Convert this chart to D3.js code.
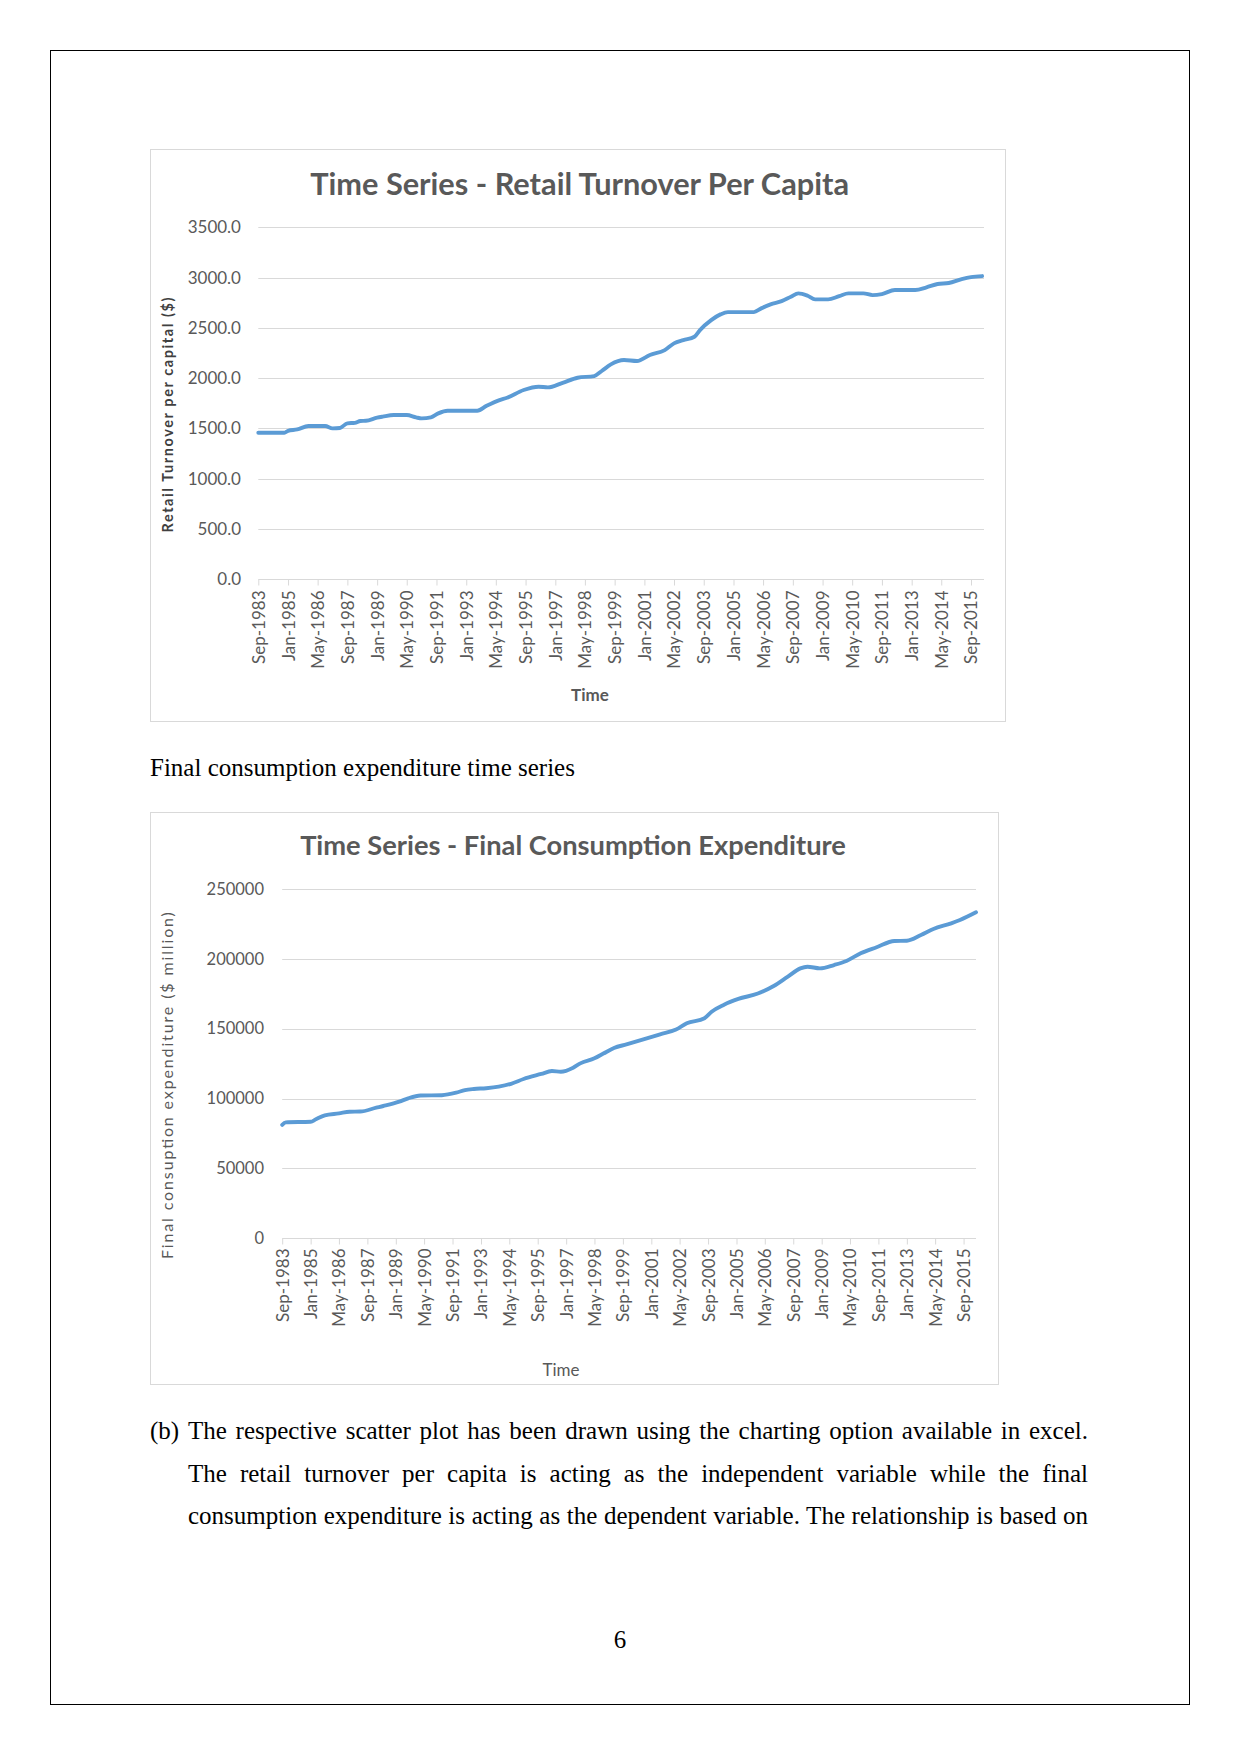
<!DOCTYPE html>
<html><head><meta charset="utf-8">
<script src="https://cdn.jsdelivr.net/npm/d3@7"></script>
<style>body{margin:0;background:#fff} svg{display:block}</style>
</head><body>
<svg id="page" width="1241" height="1754"></svg>
<script>
// ---------- data ----------
const tickLabels = ["Sep-1983","Jan-1985","May-1986","Sep-1987","Jan-1989","May-1990","Sep-1991","Jan-1993","May-1994","Sep-1995","Jan-1997","May-1998","Sep-1999","Jan-2001","May-2002","Sep-2003","Jan-2005","May-2006","Sep-2007","Jan-2009","May-2010","Sep-2011","Jan-2013","May-2014","Sep-2015"];

const retailDates = ["1983-09","1984-11","1985-01","1985-06","1985-12","1986-09","1987-01","1987-05","1987-09","1988-01","1988-04","1988-07","1989-01","1989-04","1989-10","1990-05","1990-10","1991-01","1991-06","1991-10","1992-03","1993-07","1993-12","1994-07","1994-11","1995-08","1996-04","1996-09","1997-05","1998-01","1998-10","1999-02","1999-07","2000-02","2000-09","2001-04","2001-12","2002-05","2002-10","2003-04","2003-07","2004-01","2004-06","2004-10","2005-12","2006-04","2006-09","2007-03","2007-08","2007-12","2008-05","2008-09","2009-04","2009-10","2010-03","2010-11","2011-04","2011-09","2012-04","2013-03","2013-09","2014-03","2014-09","2015-04","2015-09","2016-03"];
const retailValues = [1457,1457,1477,1490,1524,1524,1501,1505,1551,1556,1574,1576,1607,1617,1633,1633,1610,1600,1610,1650,1676,1676,1725,1782,1805,1882,1915,1908,1954,2004,2021,2071,2137,2180,2170,2230,2279,2346,2379,2412,2478,2577,2634,2657,2657,2694,2733,2766,2809,2843,2819,2783,2783,2816,2843,2843,2826,2836,2876,2876,2903,2936,2946,2985,3005,3015];

const fceDates = ["1983-09","1983-11","1985-01","1985-04","1985-09","1986-05","1986-11","1987-05","1988-02","1988-06","1989-03","1989-08","1990-03","1991-03","1991-11","1992-04","1992-09","1993-04","1993-11","1994-06","1995-01","1995-11","1996-05","1996-10","1997-05","1997-09","1998-05","1998-10","1999-04","1999-11","2000-09","2001-06","2002-03","2002-09","2003-07","2003-11","2004-06","2005-02","2006-01","2006-10","2007-06","2008-01","2008-05","2008-12","2009-08","2010-03","2010-11","2011-08","2012-06","2013-01","2013-09","2014-04","2015-02","2015-07","2016-04"];
const fceValues = [81200,83000,83400,85200,88000,89400,90600,90700,93500,94700,97800,100200,102200,102400,104200,106100,106900,107400,108500,110600,114000,117600,119700,119200,122100,125200,128800,132200,136200,138800,142600,146000,149400,153900,157500,162200,167200,171300,175200,180600,187300,193200,194400,193200,195600,198500,204000,208300,212800,213000,217100,221400,225400,227800,233300];

const retailYTicks = [0,500,1000,1500,2000,2500,3000,3500];
const fceYTicks = [0,50000,100000,150000,200000,250000];

const retailTitle = "Time Series - Retail Turnover Per Capita";
const retailYTitle = "Retail Turnover  per capital ($)";
const fceTitle = "Time Series - Final Consumption Expenditure";
const fceYTitle = "Final consuption expenditure ($  million)";
const xTitle = "Time";

const caption = "Final consumption expenditure time series";
const paraLabel = "(b)";
const paraLines = [
  "The respective scatter plot has been drawn using the charting option available in excel.",
  "The retail turnover per capita is acting as the independent variable while the final",
  "consumption expenditure is acting as the dependent variable. The relationship is based on"
];
const pageNumber = "6";

// ---------- drawing ----------
const parseM = d3.timeParse("%Y-%m");
const tickParse = d3.timeParse("%b-%Y");
const svg = d3.select("#page");
const FONT = "Lato, 'Open Sans', sans-serif";
const SERIF = "'Liberation Serif', 'Times New Roman', serif";
const TXT = "#595959";

svg.append("rect").attr("x",50.5).attr("y",50.5).attr("width",1139).attr("height",1654)
  .attr("fill","none").attr("stroke","#000").attr("stroke-width",1);

function fitText(sel, width){
  const w = sel.node().getComputedTextLength();
  const fs = parseFloat(sel.attr("font-size"));
  sel.attr("font-size", fs*width/w);
}

function drawChart(cfg){
  const g = svg.append("g");
  g.append("rect").attr("x",cfg.box[0]+0.5).attr("y",cfg.box[1]+0.5)
    .attr("width",cfg.box[2]).attr("height",cfg.box[3])
    .attr("fill","#fff").attr("stroke","#d9d9d9");

  const x = d3.scaleTime().domain([parseM("1983-09"), parseM("2016-04")]).range(cfg.xr);
  const y = d3.scaleLinear().domain(cfg.yd).range(cfg.yr);

  // gridlines
  g.append("g").selectAll("line").data(cfg.yTicks.filter(v=>v>0)).join("line")
    .attr("x1",cfg.xr[0]).attr("x2",cfg.xr[1])
    .attr("y1",d=>Math.round(y(d))+0.5).attr("y2",d=>Math.round(y(d))+0.5)
    .attr("stroke","#d9d9d9").attr("stroke-width",1);

  // y labels
  g.append("g").selectAll("text").data(cfg.yTicks).join("text")
    .attr("x",cfg.yLabelX).attr("y",d=>y(d)).attr("dy","0.35em")
    .attr("text-anchor","end").attr("font-family",FONT).attr("font-size",cfg.yLabelSize)
    .attr("fill",TXT).text(cfg.yFmt);

  // x axis
  const tickDates = tickLabels.map(tickParse);
  const ax = g.append("g").attr("transform",`translate(0,${Math.round(y(0))+0.5})`)
    .call(d3.axisBottom(x).tickValues(tickDates).tickFormat((d,i)=>tickLabels[i]).tickSizeOuter(0).tickSize(6));
  ax.select(".domain").attr("stroke","#d9d9d9").attr("d",`M${cfg.xr[0]},0H${cfg.xr[1]}`);
  ax.selectAll(".tick line").attr("stroke","#d9d9d9");
  ax.selectAll(".tick text")
    .attr("transform","rotate(-90)").attr("text-anchor","end")
    .attr("x",-cfg.xLabelGap).attr("y",0).attr("dy","0.35em")
    .attr("font-family",FONT).attr("font-size",17).attr("fill",TXT);

  // line
  const data = cfg.dates.map((d,i)=>({d:parseM(d), v:cfg.values[i]}));
  g.append("path").datum(data)
    .attr("fill","none").attr("stroke","#5b9bd5").attr("stroke-width",3.9)
    .attr("stroke-linejoin","round").attr("stroke-linecap","round")
    .attr("d", d3.line().x(p=>x(p.d)).y(p=>y(p.v)).curve(d3.curveMonotoneX));

  // title
  const t = g.append("text").attr("x",cfg.titlePos[0]).attr("y",cfg.titlePos[1])
    .attr("text-anchor","middle").attr("font-family",FONT).attr("font-weight",700)
    .attr("font-size",25).attr("fill",TXT).text(cfg.title);
  fitText(t, cfg.titleW);

  // y title
  const yt = g.append("text").attr("transform",`translate(${cfg.yTitlePos[0]},${cfg.yTitlePos[1]}) rotate(-90)`)
    .attr("text-anchor","middle").attr("dy","0.35em").attr("font-family",FONT)
    .attr("font-weight",cfg.yTitleBold?700:400).attr("font-size",cfg.yTitleSize)
    .attr("fill",cfg.yTitleBold?"#404040":TXT).text(cfg.yTitle);
  if (cfg.yTitleLen) yt.attr("textLength",cfg.yTitleLen).attr("lengthAdjust","spacing");

  // x title
  g.append("text").attr("x",cfg.xTitlePos[0]).attr("y",cfg.xTitlePos[1])
    .attr("text-anchor","middle").attr("font-family",FONT)
    .attr("font-weight",cfg.yTitleBold?700:400).attr("font-size",17)
    .attr("fill",TXT).text(xTitle);
}

drawChart({
  box:[150,149,855,572], xr:[258.3,984], yd:[0,3500], yr:[579.3,227.3],
  yTicks:retailYTicks, yFmt:d3.format(".1f"), yLabelX:241, yLabelSize:17, xLabelGap:11,
  dates:retailDates, values:retailValues,
  title:retailTitle, titlePos:[579.6,195], titleW:539,
  yTitle:retailYTitle, yTitlePos:[168,415], yTitleBold:true, yTitleSize:14.5, yTitleLen:235,
  xTitlePos:[590,701]
});

drawChart({
  box:[150,812,848,572], xr:[282.2,976], yd:[0,250000], yr:[1238.3,889],
  yTicks:fceYTicks, yFmt:d3.format("d"), yLabelX:264, yLabelSize:16.5, xLabelGap:10,
  dates:fceDates, values:fceValues,
  title:fceTitle, titlePos:[573,855], titleW:546,
  yTitle:fceYTitle, yTitlePos:[167,1085.6], yTitleBold:false, yTitleSize:16, yTitleLen:347,
  xTitlePos:[561,1376]
});

// ---------- page text ----------
svg.append("text").attr("x",150).attr("y",776).attr("font-family",SERIF)
  .attr("font-size",25).attr("fill","#000").text(caption);

svg.append("text").attr("x",150).attr("y",1439).attr("font-family",SERIF)
  .attr("font-size",25).attr("fill","#000").text(paraLabel);

const baselines = [1439,1482,1524];
paraLines.forEach((s,i)=>{
  const t = svg.append("text").attr("x",188).attr("y",baselines[i]).attr("font-family",SERIF)
    .attr("font-size",25).attr("fill","#000").text(s);
  const w = t.node().getComputedTextLength();
  const n = (s.match(/ /g)||[]).length;
  t.style("word-spacing", ((1088-188-w)/n)+"px");
});

svg.append("text").attr("x",620).attr("y",1648).attr("text-anchor","middle")
  .attr("font-family",SERIF).attr("font-size",25).attr("fill","#000").text(pageNumber);
</script>
</body></html>
